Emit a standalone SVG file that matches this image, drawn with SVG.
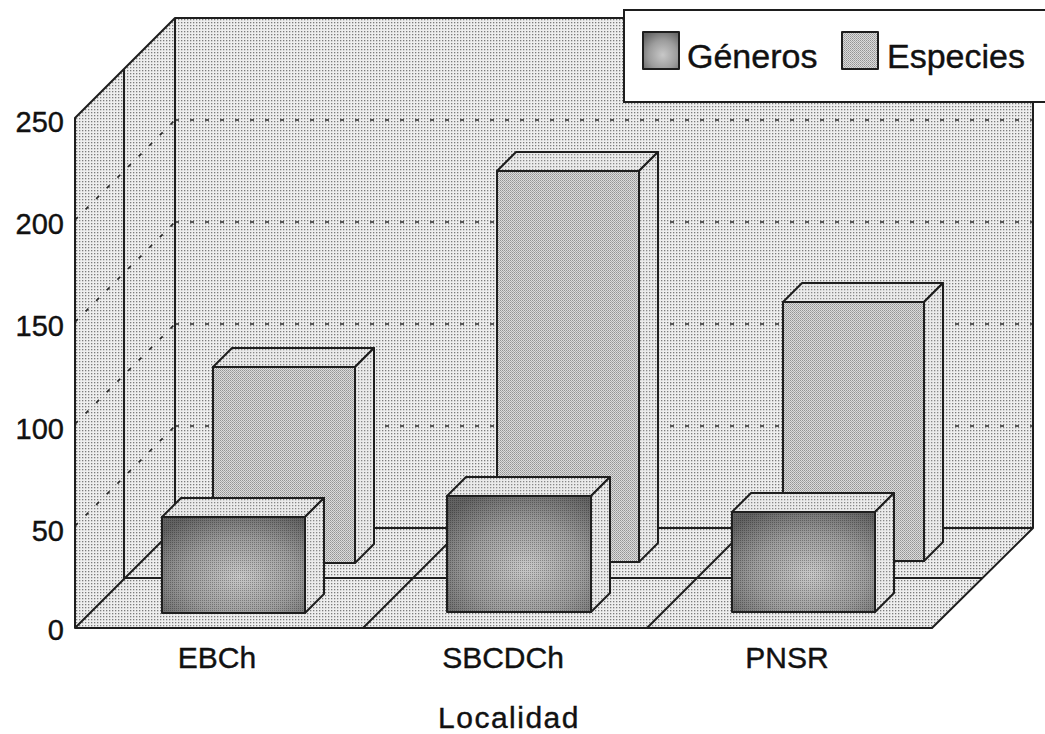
<svg xmlns="http://www.w3.org/2000/svg" width="1045" height="734" viewBox="0 0 1045 734">
<defs>
  <pattern id="bg" width="3" height="3" patternUnits="userSpaceOnUse">
    <rect width="3" height="3" fill="#eeeeee"/>
    <rect x="1" y="1" width="1.3" height="1.3" fill="#7c7c7c"/>
  </pattern>
  <pattern id="esp" width="2" height="2" patternUnits="userSpaceOnUse">
    <rect width="2" height="2" fill="#dcdcdc"/>
    <rect width="1" height="1" fill="#959595"/>
    <rect x="1" y="1" width="1" height="1" fill="#aaaaaa"/>
  </pattern>
  <pattern id="lite" width="3" height="3" patternUnits="userSpaceOnUse">
    <rect width="3" height="3" fill="#ebebeb"/>
    <rect x="1" y="1" width="1.3" height="1.3" fill="#888888"/>
  </pattern>
  <radialGradient id="genG" cx="0.55" cy="0.62" r="0.72">
    <stop offset="0" stop-color="#c8c8c8"/>
    <stop offset="0.55" stop-color="#9c9c9c"/>
    <stop offset="1" stop-color="#626262"/>
  </radialGradient>
  <pattern id="gdots" width="2" height="2" patternUnits="userSpaceOnUse">
    <rect width="1" height="1" fill="#000" fill-opacity="0.28"/>
  </pattern>
  <style>
    .ln{stroke:#1e1e1e;stroke-width:2;fill:none;stroke-linejoin:round}
    .grid{stroke:#2a2a2a;stroke-width:1.7;stroke-dasharray:4 11;fill:none}
    .wall{fill:url(#bg)}
    .face{stroke:#1e1e1e;stroke-width:2;stroke-linejoin:round}
    .espF{fill:url(#esp)}
    .lt{fill:url(#lite)}
    .genF{fill:url(#genG)}
    .txt{font-family:"Liberation Sans",Arial,Helvetica,sans-serif;fill:#111;stroke:#111;stroke-width:0.4}
    .tick{font-size:29px;text-anchor:end}
    .cat{font-size:30px;text-anchor:middle}
    .leg{font-size:34px}
  </style>
</defs>
<rect width="1045" height="734" fill="#ffffff"/>

<g id="frame">
  <polygon class="wall" points="175,18 1033,18 1033,528 175,528"/>
  <polygon class="wall" points="75,118 175,18 175,528 75,628"/>
  <polygon class="wall" points="75,628 175,528 1033,528 932,628"/>
  <g id="gridlines">
    <path class="grid" d="M175,120H1033M175,222H1033M175,324H1033M175,426H1033"/>
    <path class="grid" d="M75,220L175,120M75,322L175,222M75,424L175,324M75,526L175,426"/>
  </g>
  <path class="ln" d="M75,628V118L175,18H1033V528L932,628Z"/>
  <path class="ln" d="M124,69V578H982"/>
  <path class="ln" d="M175,18V528H1033"/>
  <path class="ln" d="M75,628L175,528M363,628L463,528M647,628L747,528"/>
</g>

<g id="especies-bars">
  <g id="esp-ebch">
    <polygon class="face lt" points="213,367 232,348 374,348 355,367"/>
    <polygon class="face lt" points="355,367 374,348 374,544 355,563"/>
    <rect class="face espF" x="213" y="367" width="142" height="196"/>
  </g>
  <g id="esp-sbcdch">
    <polygon class="face lt" points="497,171 516,152 658,152 639,171"/>
    <polygon class="face lt" points="639,171 658,152 658,543 639,562"/>
    <rect class="face espF" x="497" y="171" width="142" height="391"/>
  </g>
  <g id="esp-pnsr">
    <polygon class="face lt" points="783,302 802,283 943,283 924,302"/>
    <polygon class="face lt" points="924,302 943,283 943,542 924,561"/>
    <rect class="face espF" x="783" y="302" width="141" height="259"/>
  </g>
</g>

<g id="generos-bars">
  <g id="gen-ebch">
    <polygon class="face lt" points="162,517 181,498 324,498 305,517"/>
    <polygon class="face lt" points="305,517 324,498 324,594 305,613"/>
    <rect class="face genF" x="162" y="517" width="143" height="96"/>
    <rect x="163" y="518" width="141" height="94" fill="url(#gdots)"/>
  </g>
  <g id="gen-sbcdch">
    <polygon class="face lt" points="447,496 466,477 610,477 591,496"/>
    <polygon class="face lt" points="591,496 610,477 610,593 591,612"/>
    <rect class="face genF" x="447" y="496" width="144" height="116"/>
    <rect x="448" y="497" width="142" height="114" fill="url(#gdots)"/>
  </g>
  <g id="gen-pnsr">
    <polygon class="face lt" points="732,512 751,493 894,493 875,512"/>
    <polygon class="face lt" points="875,512 894,493 894,593 875,612"/>
    <rect class="face genF" x="732" y="512" width="143" height="100"/>
    <rect x="733" y="513" width="141" height="98" fill="url(#gdots)"/>
  </g>
</g>

<g id="y-axis-labels" class="txt tick">
  <text x="64" y="132">250</text>
  <text x="64" y="234">200</text>
  <text x="64" y="336">150</text>
  <text x="64" y="439">100</text>
  <text x="64" y="541">50</text>
  <text x="64" y="640">0</text>
</g>

<g id="x-axis-labels" class="txt cat">
  <text x="217" y="668">EBCh</text>
  <text x="503" y="668">SBCDCh</text>
  <text x="787" y="668">PNSR</text>
  <text x="509" y="728" letter-spacing="1.5">Localidad</text>
</g>

<g id="legend">
  <rect x="624" y="10" width="430" height="92" fill="#ffffff" stroke="#1e1e1e" stroke-width="2"/>
  <g id="leg-generos">
    <rect class="face genF" x="643" y="32" width="36" height="37"/>
    <text class="txt leg" x="687" y="68">Géneros</text>
  </g>
  <g id="leg-especies">
    <rect class="face espF" x="842" y="32" width="36" height="37"/>
    <text class="txt leg" x="887" y="68">Especies</text>
  </g>
</g>
</svg>
